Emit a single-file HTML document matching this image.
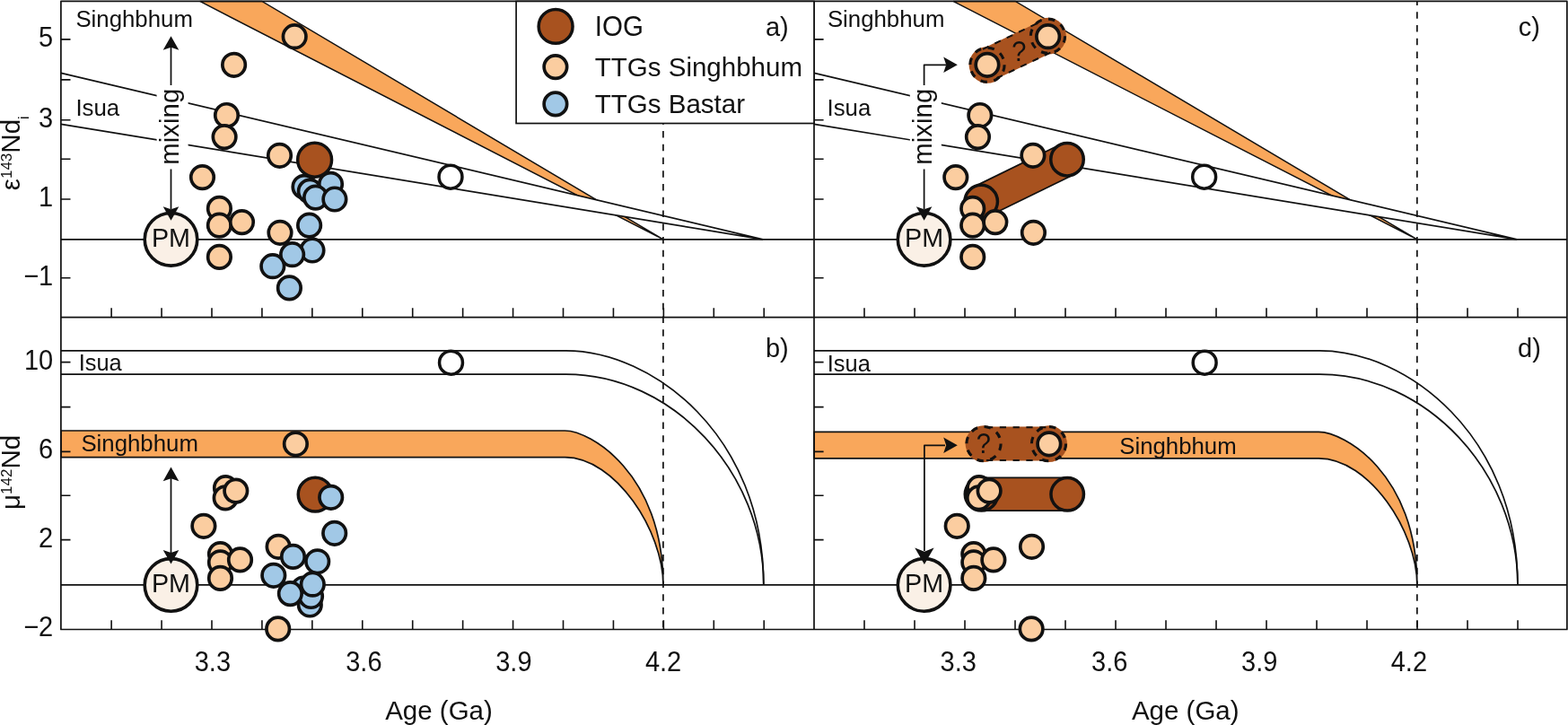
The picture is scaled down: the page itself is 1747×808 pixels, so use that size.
<!DOCTYPE html>
<html><head><meta charset="utf-8"><title>Nd isotope evolution</title>
<style>html,body{margin:0;padding:0;background:#fff;}svg{display:block;}</style>
</head><body>
<svg width="1747" height="808" viewBox="0 0 1747 808" font-family="'Liberation Sans', sans-serif" fill="#111111">
<rect width="1747" height="808" fill="#fff"/>
<path d="M222.7,1.45 L291.9,1.45 L738.6,266.7 Z" fill="#F9A75B" stroke="#111111" stroke-width="1.5" stroke-linejoin="miter"/>
<path d="M67.9,81.4 L850.1,266.8 L67.9,138.3" fill="#fff" stroke="#111111" stroke-width="1.7"/>
<line x1="67.9" y1="266.8" x2="907" y2="266.8" stroke="#111111" stroke-width="1.7"/>
<text x="84.4" y="30.2" font-size="25.8" text-anchor="start">Singhbhum</text>
<text x="84.4" y="128.5" font-size="25.8" text-anchor="start">Isua</text>
<rect x="174.6" y="95" width="35" height="93.5" fill="#fff"/>
<text transform="translate(198.8,141.2) rotate(-90)" font-size="29.4" text-anchor="middle">mixing</text>
<path d="M1062,1.45 L1131.29,1.45 L1578.57,266.7 Z" fill="#F9A75B" stroke="#111111" stroke-width="1.5" stroke-linejoin="miter"/>
<path d="M907,81.4 L1690.22,266.8 L907,138.3" fill="#fff" stroke="#111111" stroke-width="1.7"/>
<line x1="907" y1="266.8" x2="1746.1" y2="266.8" stroke="#111111" stroke-width="1.7"/>
<text x="921.9" y="30.2" font-size="25.8" text-anchor="start">Singhbhum</text>
<text x="921.5" y="128.5" font-size="25.8" text-anchor="start">Isua</text>
<rect x="1013.84" y="95" width="35" height="93.5" fill="#fff"/>
<text transform="translate(1038.07,141.2) rotate(-90)" font-size="29.4" text-anchor="middle">mixing</text>
<path d="M67.9,480 L629.4,480 C657.2,480 738.9,527.4 738.9,651.9 C738.9,592.2 685.7,509.6 629.4,509.6 L67.9,509.6 Z" fill="#F9A75B" stroke="#111111" stroke-width="1.7"/>
<path d="M67.9,390.8 L630.5,390.8 C727.5,390.8 850.8,485.7 850.8,651.9" fill="none" stroke="#111111" stroke-width="1.7"/>
<path d="M67.9,417.1 L630.5,417.1 C749.5,417.1 850.8,526.2 850.8,651.9" fill="none" stroke="#111111" stroke-width="1.7"/>
<line x1="67.9" y1="651.9" x2="907" y2="651.9" stroke="#111111" stroke-width="1.7"/>
<text x="87.7" y="412.9" font-size="25.4" text-anchor="start">Isua</text>
<text x="90.4" y="502.7" font-size="25.8" text-anchor="start">Singhbhum</text>
<path d="M907,481.4 L1469.23,481.4 C1497.07,481.4 1578.87,527.4 1578.87,651.9 C1578.87,592.2 1525.6,510.9 1469.23,510.9 L907,510.9 Z" fill="#F9A75B" stroke="#111111" stroke-width="1.7"/>
<path d="M907,390.8 L1470.33,390.8 C1567.46,390.8 1690.92,485.7 1690.92,651.9" fill="none" stroke="#111111" stroke-width="1.7"/>
<path d="M907,417.1 L1470.33,417.1 C1589.49,417.1 1690.92,526.2 1690.92,651.9" fill="none" stroke="#111111" stroke-width="1.7"/>
<line x1="907" y1="651.9" x2="1746.1" y2="651.9" stroke="#111111" stroke-width="1.7"/>
<text x="921.8" y="413.9" font-size="25.4" text-anchor="start">Isua</text>
<text x="1247.2" y="505.8" font-size="25.8" text-anchor="start">Singhbhum</text>
<line x1="738.9" y1="1.45" x2="738.9" y2="701.5" stroke="#111111" stroke-width="1.7" stroke-dasharray="7.45 7.3" stroke-dashoffset="2.95"/>
<line x1="1578.87" y1="1.45" x2="1578.87" y2="701.5" stroke="#111111" stroke-width="1.7" stroke-dasharray="7.45 7.3" stroke-dashoffset="2.95"/>
<path d="M67.9,1.45 H1745.9 V701.5 H67.9 Z M907,1.45 V701.5 M67.9,353.6 H1745.9" fill="none" stroke="#111111" stroke-width="1.7" stroke-linejoin="round"/>
<path d="M124.13,353.6 v-10.3 M124.13,701.5 v-10.3 M963,353.6 v-10.3 M963,701.5 v-10.3 M180.06,353.6 v-10.3 M180.06,701.5 v-10.3 M1019.01,353.6 v-10.3 M1019.01,701.5 v-10.3 M235.99,353.6 v-10.3 M235.99,701.5 v-10.3 M1075.01,353.6 v-10.3 M1075.01,701.5 v-10.3 M291.92,353.6 v-10.3 M291.92,701.5 v-10.3 M1131.01,353.6 v-10.3 M1131.01,701.5 v-10.3 M347.85,353.6 v-10.3 M347.85,701.5 v-10.3 M1187.01,353.6 v-10.3 M1187.01,701.5 v-10.3 M403.78,353.6 v-10.3 M403.78,701.5 v-10.3 M1243.02,353.6 v-10.3 M1243.02,701.5 v-10.3 M459.71,353.6 v-10.3 M459.71,701.5 v-10.3 M1299.02,353.6 v-10.3 M1299.02,701.5 v-10.3 M515.64,353.6 v-10.3 M515.64,701.5 v-10.3 M1355.02,353.6 v-10.3 M1355.02,701.5 v-10.3 M571.57,353.6 v-10.3 M571.57,701.5 v-10.3 M1411.02,353.6 v-10.3 M1411.02,701.5 v-10.3 M627.5,353.6 v-10.3 M627.5,701.5 v-10.3 M1467.03,353.6 v-10.3 M1467.03,701.5 v-10.3 M683.43,353.6 v-10.3 M683.43,701.5 v-10.3 M1523.03,353.6 v-10.3 M1523.03,701.5 v-10.3 M739.36,353.6 v-10.3 M739.36,701.5 v-10.3 M1579.03,353.6 v-10.3 M1579.03,701.5 v-10.3 M795.29,353.6 v-10.3 M795.29,701.5 v-10.3 M1635.04,353.6 v-10.3 M1635.04,701.5 v-10.3 M851.22,353.6 v-10.3 M851.22,701.5 v-10.3 M1691.04,353.6 v-10.3 M1691.04,701.5 v-10.3 M67.9,43.9 h10.6 M67.9,88.9 h10.6 M67.9,133.8 h10.6 M67.9,177.2 h10.6 M67.9,222 h10.6 M67.9,309.8 h10.6 M67.9,403.6 h10.6 M67.9,453.6 h10.6 M67.9,503.4 h10.6 M67.9,552.2 h10.6 M67.9,601.6 h10.6 M907,43.9 h10.6 M907,88.9 h10.6 M907,133.8 h10.6 M907,177.2 h10.6 M907,222 h10.6 M907,309.8 h10.6 M907,403.6 h10.6 M907,453.6 h10.6 M907,503.4 h10.6 M907,552.2 h10.6 M907,601.6 h10.6" stroke="#111111" stroke-width="1.6" fill="none"/>
<circle cx="190.5" cy="266.8" r="29.3" fill="#FAF0E6" stroke="#111111" stroke-width="3.6"/>
<text transform="translate(190.5,275.2) scale(1,1.06)" font-size="28.7" text-anchor="middle">PM</text>
<line x1="190.5" y1="52" x2="190.5" y2="95" stroke="#111111" stroke-width="1.75"/>
<path d="M190.5,40.2 L199.3,55.8 L190.5,52.8 L181.7,55.8 Z" fill="#111111"/>
<line x1="190.5" y1="188.5" x2="190.5" y2="233" stroke="#111111" stroke-width="1.75"/>
<path d="M190.5,245.8 L181.7,230.2 L190.5,233.2 L199.3,230.2 Z" fill="#111111"/>
<circle cx="328.2" cy="40.7" r="12.75" fill="#FBCDA0" stroke="#111111" stroke-width="3.7"/>
<circle cx="260.6" cy="72.3" r="12.75" fill="#FBCDA0" stroke="#111111" stroke-width="3.7"/>
<circle cx="252.5" cy="128.5" r="12.75" fill="#FBCDA0" stroke="#111111" stroke-width="3.7"/>
<circle cx="250.1" cy="152.6" r="12.75" fill="#FBCDA0" stroke="#111111" stroke-width="3.7"/>
<circle cx="225.5" cy="197.6" r="12.75" fill="#FBCDA0" stroke="#111111" stroke-width="3.7"/>
<circle cx="311.5" cy="173.3" r="12.75" fill="#FBCDA0" stroke="#111111" stroke-width="3.7"/>
<circle cx="244.4" cy="232.4" r="12.75" fill="#FBCDA0" stroke="#111111" stroke-width="3.7"/>
<circle cx="244.4" cy="251.1" r="12.75" fill="#FBCDA0" stroke="#111111" stroke-width="3.7"/>
<circle cx="269.5" cy="247.6" r="12.75" fill="#FBCDA0" stroke="#111111" stroke-width="3.7"/>
<circle cx="244.4" cy="286.4" r="12.75" fill="#FBCDA0" stroke="#111111" stroke-width="3.7"/>
<circle cx="312" cy="259.3" r="12.75" fill="#FBCDA0" stroke="#111111" stroke-width="3.7"/>
<circle cx="339" cy="208.3" r="12.75" fill="#A1C8E6" stroke="#111111" stroke-width="3.7"/>
<circle cx="345.3" cy="213.1" r="12.75" fill="#A1C8E6" stroke="#111111" stroke-width="3.7"/>
<circle cx="368.5" cy="205.3" r="12.75" fill="#A1C8E6" stroke="#111111" stroke-width="3.7"/>
<circle cx="351.6" cy="220.1" r="12.75" fill="#A1C8E6" stroke="#111111" stroke-width="3.7"/>
<circle cx="372.9" cy="222" r="12.75" fill="#A1C8E6" stroke="#111111" stroke-width="3.7"/>
<circle cx="344.6" cy="251.1" r="12.75" fill="#A1C8E6" stroke="#111111" stroke-width="3.7"/>
<circle cx="348" cy="279" r="12.75" fill="#A1C8E6" stroke="#111111" stroke-width="3.7"/>
<circle cx="325.6" cy="283.7" r="12.75" fill="#A1C8E6" stroke="#111111" stroke-width="3.7"/>
<circle cx="303.8" cy="296.7" r="12.75" fill="#A1C8E6" stroke="#111111" stroke-width="3.7"/>
<circle cx="322.4" cy="320.9" r="12.75" fill="#A1C8E6" stroke="#111111" stroke-width="3.7"/>
<circle cx="350.6" cy="178.2" r="18.95" fill="#A8521F" stroke="#111111" stroke-width="3.5"/>
<circle cx="502" cy="197.2" r="12.95" fill="#fff" stroke="#111111" stroke-width="3.5"/>
<circle cx="1029.6" cy="266.8" r="29.3" fill="#FAF0E6" stroke="#111111" stroke-width="3.6"/>
<text transform="translate(1029.6,275.2) scale(1,1.06)" font-size="28.7" text-anchor="middle">PM</text>
<path d="M1029.6,95 L1029.6,72.3 L1054,72.3" fill="none" stroke="#111111" stroke-width="1.75" stroke-linejoin="round"/>
<path d="M1066.8,72.3 L1051.2,81.1 L1054.2,72.3 L1051.2,63.5 Z" fill="#111111"/>
<line x1="1029.6" y1="188.5" x2="1029.6" y2="233" stroke="#111111" stroke-width="1.75"/>
<path d="M1029.6,245.8 L1020.8,230.2 L1029.6,233.2 L1038.4,230.2 Z" fill="#111111"/>
<line x1="1100" y1="72.3" x2="1167.5" y2="40.2" stroke="#A8521F" stroke-width="37"/>
<circle cx="1100" cy="72.3" r="20.4" fill="#A8521F"/>
<circle cx="1167.5" cy="40.2" r="20.4" fill="#A8521F"/>
<line x1="1107.69" y1="88.47" x2="1175.19" y2="56.37" stroke="#111111" stroke-width="2" stroke-dasharray="7.2 7.6" stroke-dashoffset="-3"/>
<line x1="1092.31" y1="56.13" x2="1159.81" y2="24.03" stroke="#111111" stroke-width="2" stroke-dasharray="7.2 7.6" stroke-dashoffset="-3"/>
<circle cx="1100" cy="72.3" r="19.1" fill="none" stroke="#111111" stroke-width="3.1" stroke-dasharray="7.4 7.6"/>
<circle cx="1167.5" cy="40.2" r="19.1" fill="none" stroke="#111111" stroke-width="3.1" stroke-dasharray="7.4 7.6"/>
<text transform="translate(1135.4,67.5) scale(1,1.05)" font-size="29" text-anchor="middle">?</text>
<line x1="1093.2" y1="224.6" x2="1189" y2="177.7" stroke="#111111" stroke-width="38.4"/>
<line x1="1093.2" y1="224.6" x2="1189" y2="177.7" stroke="#A8521F" stroke-width="35"/>
<circle cx="1093.2" cy="224.6" r="18.25" fill="#A8521F" stroke="#111111" stroke-width="3.5"/>
<circle cx="1189" cy="177.7" r="18.25" fill="#A8521F" stroke="#111111" stroke-width="3.5"/>
<circle cx="1167.64" cy="40.7" r="12.75" fill="#FBCDA0" stroke="#111111" stroke-width="3.7"/>
<circle cx="1099.95" cy="72.3" r="12.75" fill="#FBCDA0" stroke="#111111" stroke-width="3.7"/>
<circle cx="1091.84" cy="128.5" r="12.75" fill="#FBCDA0" stroke="#111111" stroke-width="3.7"/>
<circle cx="1089.44" cy="152.6" r="12.75" fill="#FBCDA0" stroke="#111111" stroke-width="3.7"/>
<circle cx="1064.8" cy="197.6" r="12.75" fill="#FBCDA0" stroke="#111111" stroke-width="3.7"/>
<circle cx="1150.92" cy="173.3" r="12.75" fill="#FBCDA0" stroke="#111111" stroke-width="3.7"/>
<circle cx="1083.73" cy="232.4" r="12.75" fill="#FBCDA0" stroke="#111111" stroke-width="3.7"/>
<circle cx="1083.73" cy="251.1" r="12.75" fill="#FBCDA0" stroke="#111111" stroke-width="3.7"/>
<circle cx="1108.86" cy="247.6" r="12.75" fill="#FBCDA0" stroke="#111111" stroke-width="3.7"/>
<circle cx="1083.73" cy="286.4" r="12.75" fill="#FBCDA0" stroke="#111111" stroke-width="3.7"/>
<circle cx="1151.42" cy="259.3" r="12.75" fill="#FBCDA0" stroke="#111111" stroke-width="3.7"/>
<circle cx="1341.66" cy="197.2" r="12.95" fill="#fff" stroke="#111111" stroke-width="3.5"/>
<circle cx="190.5" cy="651.9" r="29.3" fill="#FAF0E6" stroke="#111111" stroke-width="3.6"/>
<text transform="translate(190.5,660.3) scale(1,1.06)" font-size="28.7" text-anchor="middle">PM</text>
<line x1="190.5" y1="533" x2="190.5" y2="616.5" stroke="#111111" stroke-width="1.75"/>
<path d="M190.5,520.6 L199.3,536.2 L190.5,533.2 L181.7,536.2 Z" fill="#111111"/>
<path d="M190.5,628.6 L181.7,613 L190.5,616 L199.3,613 Z" fill="#111111"/>
<circle cx="329.4" cy="494.8" r="12.75" fill="#FBCDA0" stroke="#111111" stroke-width="3.7"/>
<circle cx="251.5" cy="543.7" r="12.75" fill="#FBCDA0" stroke="#111111" stroke-width="3.7"/>
<circle cx="251.2" cy="554.9" r="12.75" fill="#FBCDA0" stroke="#111111" stroke-width="3.7"/>
<circle cx="262.8" cy="547.1" r="12.75" fill="#FBCDA0" stroke="#111111" stroke-width="3.7"/>
<circle cx="226.9" cy="586.3" r="12.75" fill="#FBCDA0" stroke="#111111" stroke-width="3.7"/>
<circle cx="245.5" cy="617.6" r="12.75" fill="#FBCDA0" stroke="#111111" stroke-width="3.7"/>
<circle cx="245.5" cy="626.8" r="12.75" fill="#FBCDA0" stroke="#111111" stroke-width="3.7"/>
<circle cx="267.5" cy="623.9" r="12.75" fill="#FBCDA0" stroke="#111111" stroke-width="3.7"/>
<circle cx="245.5" cy="644.4" r="12.75" fill="#FBCDA0" stroke="#111111" stroke-width="3.7"/>
<circle cx="310.1" cy="609.3" r="12.75" fill="#FBCDA0" stroke="#111111" stroke-width="3.7"/>
<circle cx="309.7" cy="700.9" r="12.75" fill="#FBCDA0" stroke="#111111" stroke-width="3.7"/>
<circle cx="351.2" cy="551.1" r="18.95" fill="#A8521F" stroke="#111111" stroke-width="3.5"/>
<circle cx="368.7" cy="554.3" r="12.75" fill="#A1C8E6" stroke="#111111" stroke-width="3.7"/>
<circle cx="372.7" cy="594.3" r="12.75" fill="#A1C8E6" stroke="#111111" stroke-width="3.7"/>
<circle cx="326.5" cy="620.4" r="12.75" fill="#A1C8E6" stroke="#111111" stroke-width="3.7"/>
<circle cx="353.7" cy="625.8" r="12.75" fill="#A1C8E6" stroke="#111111" stroke-width="3.7"/>
<circle cx="304.8" cy="641.3" r="12.75" fill="#A1C8E6" stroke="#111111" stroke-width="3.7"/>
<circle cx="338.2" cy="656" r="12.75" fill="#A1C8E6" stroke="#111111" stroke-width="3.7"/>
<circle cx="345.3" cy="674" r="12.75" fill="#A1C8E6" stroke="#111111" stroke-width="3.7"/>
<circle cx="346.5" cy="664.5" r="12.75" fill="#A1C8E6" stroke="#111111" stroke-width="3.7"/>
<circle cx="348.3" cy="651.2" r="12.75" fill="#A1C8E6" stroke="#111111" stroke-width="3.7"/>
<circle cx="323.4" cy="661.6" r="12.75" fill="#A1C8E6" stroke="#111111" stroke-width="3.7"/>
<circle cx="502.5" cy="404.2" r="12.95" fill="#fff" stroke="#111111" stroke-width="3.5"/>
<circle cx="1029.6" cy="651.9" r="29.3" fill="#FAF0E6" stroke="#111111" stroke-width="3.6"/>
<text transform="translate(1029.6,660.3) scale(1,1.06)" font-size="28.7" text-anchor="middle">PM</text>
<path d="M1029.9,614 L1029.9,496.3 L1053,496.3" fill="none" stroke="#111111" stroke-width="1.75" stroke-linejoin="round"/>
<path d="M1066.8,496.3 L1051.2,505.1 L1054.2,496.3 L1051.2,487.5 Z" fill="#111111"/>
<path d="M1029.9,628.9 L1019.2,610.6 L1029.9,614.7 L1040.6,610.6 Z" fill="#111111"/>
<line x1="1096" y1="494.6" x2="1168.5" y2="494.6" stroke="#A8521F" stroke-width="38"/>
<circle cx="1096" cy="494.6" r="20.4" fill="#A8521F"/>
<circle cx="1168.5" cy="494.6" r="20.4" fill="#A8521F"/>
<line x1="1096" y1="513" x2="1168.5" y2="513" stroke="#111111" stroke-width="2" stroke-dasharray="7.2 7.6" stroke-dashoffset="-3"/>
<line x1="1096" y1="476.2" x2="1168.5" y2="476.2" stroke="#111111" stroke-width="2" stroke-dasharray="7.2 7.6" stroke-dashoffset="-3"/>
<circle cx="1096" cy="494.6" r="19.1" fill="none" stroke="#111111" stroke-width="3.1" stroke-dasharray="7.4 7.6"/>
<circle cx="1168.5" cy="494.6" r="19.1" fill="none" stroke="#111111" stroke-width="3.1" stroke-dasharray="7.4 7.6"/>
<text transform="translate(1095.8,505) scale(1,1.05)" font-size="29" text-anchor="middle">?</text>
<line x1="1093.5" y1="550.8" x2="1189.2" y2="550.8" stroke="#111111" stroke-width="38.4"/>
<line x1="1093.5" y1="550.8" x2="1189.2" y2="550.8" stroke="#A8521F" stroke-width="35"/>
<circle cx="1093.5" cy="550.8" r="18.25" fill="#A8521F" stroke="#111111" stroke-width="3.5"/>
<circle cx="1189.2" cy="550.8" r="18.25" fill="#A8521F" stroke="#111111" stroke-width="3.5"/>
<circle cx="1168.84" cy="494.8" r="12.75" fill="#FBCDA0" stroke="#111111" stroke-width="3.7"/>
<circle cx="1090.84" cy="543.7" r="12.75" fill="#FBCDA0" stroke="#111111" stroke-width="3.7"/>
<circle cx="1090.54" cy="554.9" r="12.75" fill="#FBCDA0" stroke="#111111" stroke-width="3.7"/>
<circle cx="1102.15" cy="547.1" r="12.75" fill="#FBCDA0" stroke="#111111" stroke-width="3.7"/>
<circle cx="1066.21" cy="586.3" r="12.75" fill="#FBCDA0" stroke="#111111" stroke-width="3.7"/>
<circle cx="1084.83" cy="617.6" r="12.75" fill="#FBCDA0" stroke="#111111" stroke-width="3.7"/>
<circle cx="1084.83" cy="626.8" r="12.75" fill="#FBCDA0" stroke="#111111" stroke-width="3.7"/>
<circle cx="1106.86" cy="623.9" r="12.75" fill="#FBCDA0" stroke="#111111" stroke-width="3.7"/>
<circle cx="1084.83" cy="644.4" r="12.75" fill="#FBCDA0" stroke="#111111" stroke-width="3.7"/>
<circle cx="1149.51" cy="609.3" r="12.75" fill="#FBCDA0" stroke="#111111" stroke-width="3.7"/>
<circle cx="1149.11" cy="700.9" r="12.75" fill="#FBCDA0" stroke="#111111" stroke-width="3.7"/>
<circle cx="1342.16" cy="404.2" r="12.95" fill="#fff" stroke="#111111" stroke-width="3.5"/>
<rect x="575.1" y="1.45" width="331.9" height="136.05" fill="#fff" stroke="#111111" stroke-width="1.7"/>
<circle cx="619.1" cy="29.4" r="18.95" fill="#A8521F" stroke="#111111" stroke-width="3.5"/>
<circle cx="618.9" cy="74.6" r="12.75" fill="#FBCDA0" stroke="#111111" stroke-width="3.7"/>
<circle cx="618.9" cy="115.9" r="12.75" fill="#A1C8E6" stroke="#111111" stroke-width="3.7"/>
<text transform="translate(662.8,39.7) scale(1,1.06)" font-size="29.5" text-anchor="start">IOG</text>
<text x="662.8" y="85.1" font-size="29.5" text-anchor="start">TTGs Singhbhum</text>
<text x="662.8" y="125.7" font-size="29.5" text-anchor="start">TTGs Bastar</text>
<text x="878.7" y="39.5" font-size="29" text-anchor="end">a)</text>
<text x="878.7" y="397.9" font-size="29" text-anchor="end">b)</text>
<text x="1716" y="39.5" font-size="29" text-anchor="end">c)</text>
<text x="1716.8" y="397.9" font-size="29" text-anchor="end">d)</text>
<text transform="translate(59.2,51.8) scale(1,1.065)" font-size="29" text-anchor="end">5</text>
<text transform="translate(59.2,141.7) scale(1,1.065)" font-size="29" text-anchor="end">3</text>
<text transform="translate(59.2,229.9) scale(1,1.065)" font-size="29" text-anchor="end">1</text>
<text transform="translate(59.2,317.7) scale(1,1.065)" font-size="29" text-anchor="end">−1</text>
<text transform="translate(59.2,411.5) scale(1,1.065)" font-size="29" text-anchor="end">10</text>
<text transform="translate(59.2,511.3) scale(1,1.065)" font-size="29" text-anchor="end">6</text>
<text transform="translate(59.2,609.5) scale(1,1.065)" font-size="29" text-anchor="end">2</text>
<text transform="translate(59.2,709.4) scale(1,1.065)" font-size="29" text-anchor="end">−2</text>
<text transform="translate(236.89,747.9) scale(1,1.06)" font-size="29" text-anchor="middle">3.3</text>
<text transform="translate(405.38,747.9) scale(1,1.06)" font-size="29" text-anchor="middle">3.6</text>
<text transform="translate(572.37,747.9) scale(1,1.06)" font-size="29" text-anchor="middle">3.9</text>
<text transform="translate(739.06,747.9) scale(1,1.06)" font-size="29" text-anchor="middle">4.2</text>
<text x="489" y="801.6" font-size="29.5" text-anchor="middle">Age (Ga)</text>
<text transform="translate(1067.69,747.9) scale(1,1.06)" font-size="29" text-anchor="middle">3.3</text>
<text transform="translate(1236.18,747.9) scale(1,1.06)" font-size="29" text-anchor="middle">3.6</text>
<text transform="translate(1403.17,747.9) scale(1,1.06)" font-size="29" text-anchor="middle">3.9</text>
<text transform="translate(1569.86,747.9) scale(1,1.06)" font-size="29" text-anchor="middle">4.2</text>
<text x="1320.75" y="801.6" font-size="29.5" text-anchor="middle">Age (Ga)</text>
<text transform="translate(22.4,212.2) rotate(-90)" font-size="29.5">ε<tspan font-size="17" dy="-9.5">143</tspan><tspan dy="9.5">Nd</tspan><tspan font-size="16.5" dy="9.4">i</tspan></text>
<text transform="translate(22.4,567.9) rotate(-90)" font-size="29.5">μ<tspan font-size="17" dy="-9.5">142</tspan><tspan dy="9.5">Nd</tspan></text>
</svg>
</body></html>
